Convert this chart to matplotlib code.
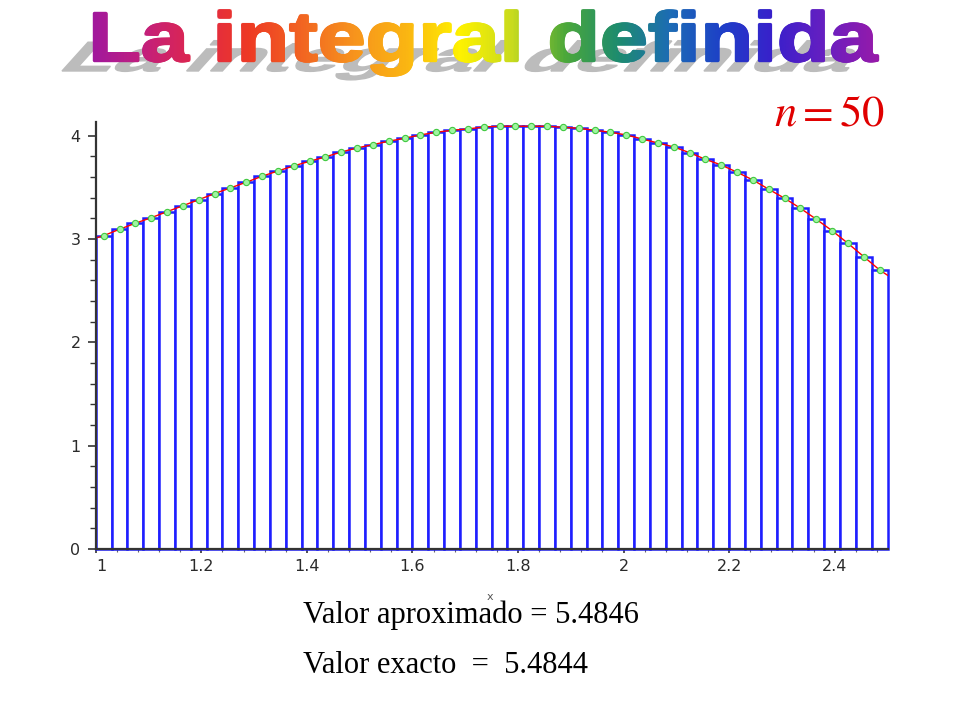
import matplotlib
matplotlib.use('Agg')
import matplotlib.pyplot as plt
import numpy as np
from matplotlib.textpath import TextPath
from matplotlib.font_manager import FontProperties
from matplotlib.patches import PathPatch
from matplotlib.transforms import Affine2D
from matplotlib.colors import LinearSegmentedColormap

# Riemann sum data
n_rect = 50
x_start = 1.0
x_end = 2.5
heights = [3.033, 3.095, 3.153, 3.207, 3.265, 3.323, 3.381, 3.440, 3.495, 3.550,
           3.608, 3.659, 3.708, 3.753, 3.795, 3.843, 3.882, 3.914, 3.947, 3.976,
           4.008, 4.034, 4.053, 4.066, 4.085, 4.092, 4.092, 4.092, 4.092, 4.082,
           4.072, 4.053, 4.034, 4.008, 3.969, 3.930, 3.892, 3.836, 3.772, 3.717,
           3.647, 3.572, 3.482, 3.395, 3.298, 3.192, 3.081, 2.959, 2.830, 2.701]
curve_start = 3.01
curve_end = 2.65

xtick_vals = [1, 1.2, 1.4, 1.6, 1.8, 2, 2.2, 2.4]
xtick_labels = ['1', '1.2', '1.4', '1.6', '1.8', '2', '2.2', '2.4']
ytick_vals = [0, 1, 2, 3, 4]
ytick_labels = ['0', '1', '2', '3', '4']

title = 'La integral definida'
n_label = r'$n=50$'
line_aprox = 'Valor aproximado = 5.4846'
line_exact = 'Valor exacto  =  5.4844'

title_colors = ['#a0189e', '#c3207c', '#e0274a', '#ee3a24', '#f26522', '#f7941d',
                '#fbb612', '#fff200', '#c8db1e', '#4ca83a', '#1e8c6e', '#1c6cb5',
                '#1e3fc8', '#3a1fcb', '#6a1fc0', '#9a1aa8']

dx = (x_end - x_start) / n_rect
lefts = x_start + dx * np.arange(n_rect)
mids = lefts + dx / 2
curve_x = np.concatenate([[x_start], mids, [x_end]])
curve_y = np.concatenate([[curve_start], heights, [curve_end]])

fig = plt.figure(figsize=(9.6, 7.2), dpi=100)
ax = fig.add_axes([95.8 / 960, 1 - 549 / 720, (887.5 - 95.8) / 960, (549 - 121.7) / 720])

ax.bar(lefts, heights, width=dx, align='edge', color='white', edgecolor='#1e1eff',
       linewidth=1.8, zorder=2, clip_on=False)
ax.plot(curve_x, curve_y, color='#ff0000', lw=1.0, zorder=3)
ax.plot(mids, heights, 'o', ms=4.5, mfc='#a0f5a0', mec='#40c840', mew=0.8, zorder=4)

ax.set_xlim(x_start, x_end)
ax.set_ylim(0, 4.136)
for s in ['top', 'right']:
    ax.spines[s].set_visible(False)
for s in ['left', 'bottom']:
    ax.spines[s].set_color('#333333')
    ax.spines[s].set_linewidth(1.6)
    ax.spines[s].set_zorder(5)

ax.set_xticks(xtick_vals)
ax.set_xticklabels(xtick_labels)
ax.set_xticks(np.arange(x_start, x_end, 0.04), minor=True)
ax.set_yticks(ytick_vals)
ax.set_yticklabels(ytick_labels)
ax.set_yticks(np.arange(0, 4.1, 0.2), minor=True)
for lab in ax.get_xticklabels() + ax.get_yticklabels():
    lab.set_fontproperties(FontProperties(family='DejaVu Sans', size=11.5))
    lab.set_color('#2a2a2a')
ax.get_xticklabels()[0].set_horizontalalignment('left')
ax.tick_params(axis='y', which='major', direction='out', length=6, width=1.2, pad=5, colors='#333333')
ax.tick_params(axis='y', which='minor', direction='out', length=4, width=1.0, colors='#333333')
ax.tick_params(axis='x', which='major', direction='out', length=3, width=1.2, pad=4, colors='#333333')
ax.tick_params(axis='x', which='minor', direction='out', length=2, width=0.8, colors='#666666')
for lab in ax.get_xticklabels() + ax.get_yticklabels():
    lab.set_color('#2a2a2a')

# overlay in pixel coordinates for the texts
ov = fig.add_axes([0, 0, 1, 1])
ov.patch.set_visible(False)
ov.axis('off')

fp = FontProperties(family='Liberation Sans', weight='bold')
tp = TextPath((0, 0), title, size=100, prop=fp)
cap = TextPath((0, 0), 'L', size=100, prop=fp).get_extents()
ext = tp.get_extents()
base = Affine2D().translate(-ext.x0, 0).transform_path(tp)
t_left, t_right, t_top, t_base = 94, 878, 13, 61
sx = (t_right - t_left) / (ext.x1 - ext.x0)
sy = (t_base - t_top) / cap.y1

# shadow, flattened and slanted
sh_h = 0.6 * (t_base - t_top)
shadow_mtx = np.array([[sx, 26 / cap.y1, t_left - 32],
                       [0, -sh_h / cap.y1, t_base + 10],
                       [0, 0, 1]])
sh_path = Affine2D(shadow_mtx).transform_path(base)
ov.add_patch(PathPatch(sh_path, fc='#bcbcbc', ec='#bcbcbc', lw=1, zorder=1))

cmap = LinearSegmentedColormap.from_list('rainbow_title', title_colors)
grad = np.linspace(0, 1, 512).reshape(1, -1)
main_tr = Affine2D().scale(sx, -sy).translate(t_left, t_base)
main_path = main_tr.transform_path(base)
for ox, oy in [(0, 0), (1.2, 0), (-1.2, 0), (0, 1.2), (0, -1.2), (0.9, 0.9), (-0.9, 0.9), (0.9, -0.9), (-0.9, -0.9)]:
    p = Affine2D().translate(ox, oy).transform_path(main_path)
    patch = PathPatch(p, fc='none', ec='none')
    ov.add_patch(patch)
    im = ov.imshow(grad, extent=[t_left - 4, t_right + 4, 85, 5], cmap=cmap,
                   aspect='auto', zorder=2, interpolation='bilinear')
    im.set_clip_path(patch)

ov.text(885, 126, n_label, color='#e00000', fontsize=32, ha='right', va='baseline',
        math_fontfamily='stix')
ov.text(490, 597, 'x', color='#555555', fontsize=8, ha='center', va='center')
ov.text(303, 623, line_aprox, family='Liberation Serif', fontsize=22, ha='left', va='baseline')
ov.text(303, 673, line_exact, family='Liberation Serif', fontsize=22, ha='left', va='baseline')

ov.set_xlim(0, 960)
ov.set_ylim(720, 0)

fig.savefig('out.png', dpi=100, facecolor='white')
